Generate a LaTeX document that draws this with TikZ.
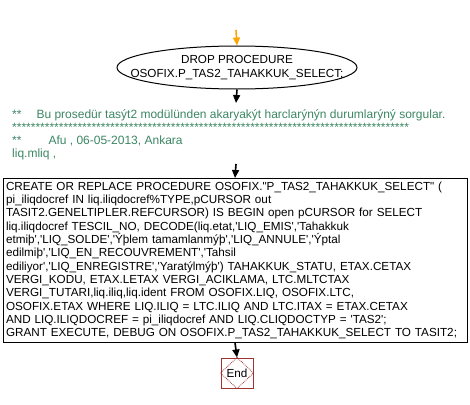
\documentclass[tikz,border=0pt]{standalone}
\usepackage{fontspec}
\newfontfamily\af{Liberation Sans}
\usetikzlibrary{shapes.geometric,arrows.meta}
\definecolor{cmtgreen}{RGB}{60,135,100}
\definecolor{endred}{RGB}{160,50,50}
\definecolor{startorange}{RGB}{255,165,0}
\begin{document}
\begin{tikzpicture}[x=1pt,y=-1pt,
  txt/.style={font=\af\fontsize{11.7}{13.3}\selectfont},
  flow/.style={line width=1.6pt, -{Triangle[width=7pt,length=8pt]}},
  cmt/.style={font=\af\fontsize{12}{13.3}\selectfont, text=cmtgreen, anchor=base west, inner sep=0pt}]
\useasboundingbox[fill=white] (0,0) rectangle (470,404);
\coordinate (start) at (236,30);
\node[ellipse, draw, line width=1pt, minimum width=240pt, minimum height=43pt, inner sep=0pt] (drop) at (237,67.5) {};
\node[txt, align=center, inner sep=0pt] (droptxt) at (drop.center) {DROP PROCEDURE\\OSOFIX.P\_TAS2\_TAHAKKUK\_SELECT;};
\draw[flow, startorange] (start) -- (drop.north);
\node[cmt] (c1) at (12,118) {**\hspace{15pt}Bu prosedür tasýt2 modülünden akaryakýt harclarýnýn durumlarýný sorgular.};
\node[cmt] (c2) at (12,131.3) {*************************************************************************************};
\node[cmt] (c3) at (12,144.6) {**\hspace{27pt}Afu , 06-05-2013, Ankara};
\node[cmt] (c4) at (12,157.9) {liq.mliq ,};
\coordinate (cin) at (236,103);
\coordinate (cout) at (236,164);
\draw[flow] (drop.south) -- (cin);
\node[draw, line width=1pt, txt, align=left, text width=458pt, minimum height=161pt, inner xsep=3pt, anchor=north] (proc) at (235,178) {CREATE OR REPLACE PROCEDURE OSOFIX."P\_TAS2\_TAHAKKUK\_SELECT" (\\
pi\_iliqdocref IN liq.iliqdocref\%TYPE,pCURSOR out\\
TASIT2.GENELTIPLER.REFCURSOR) IS BEGIN open pCURSOR for SELECT\\
liq.iliqdocref TESCIL\_NO, DECODE(liq.etat,'LIQ\_EMIS','Tahakkuk\\
etmiþ','LIQ\_SOLDE','Ýþlem tamamlanmýþ','LIQ\_ANNULE','Ýptal\\
edilmiþ','LIQ\_EN\_RECOUVREMENT','Tahsil\\
ediliyor','LIQ\_ENREGISTRE','Yaratýlmýþ') TAHAKKUK\_STATU, ETAX.CETAX\\
VERGI\_KODU, ETAX.LETAX VERGI\_ACIKLAMA, LTC.MLTCTAX\\
VERGI\_TUTARI,liq.iliq,liq.ident FROM OSOFIX.LIQ, OSOFIX.LTC,\\
OSOFIX.ETAX WHERE LIQ.ILIQ = LTC.ILIQ AND LTC.ITAX = ETAX.CETAX\\
AND LIQ.ILIQDOCREF = pi\_iliqdocref AND LIQ.CLIQDOCTYP = 'TAS2';\\
GRANT EXECUTE, DEBUG ON OSOFIX.P\_TAS2\_TAHAKKUK\_SELECT TO TASIT2;};
\draw[flow] (cout) -- (proc.north);
\node[draw=endred, line width=1pt, minimum width=32pt, minimum height=30pt, inner sep=0pt, txt] (end) at (237,373) {End};
\draw[endred, line width=0.8pt, densely dotted] (end.north) -- (end.east) -- (end.south) -- (end.west) -- cycle;
\draw[flow] (proc.south) -- (end.north);
\end{tikzpicture}
\end{document}
